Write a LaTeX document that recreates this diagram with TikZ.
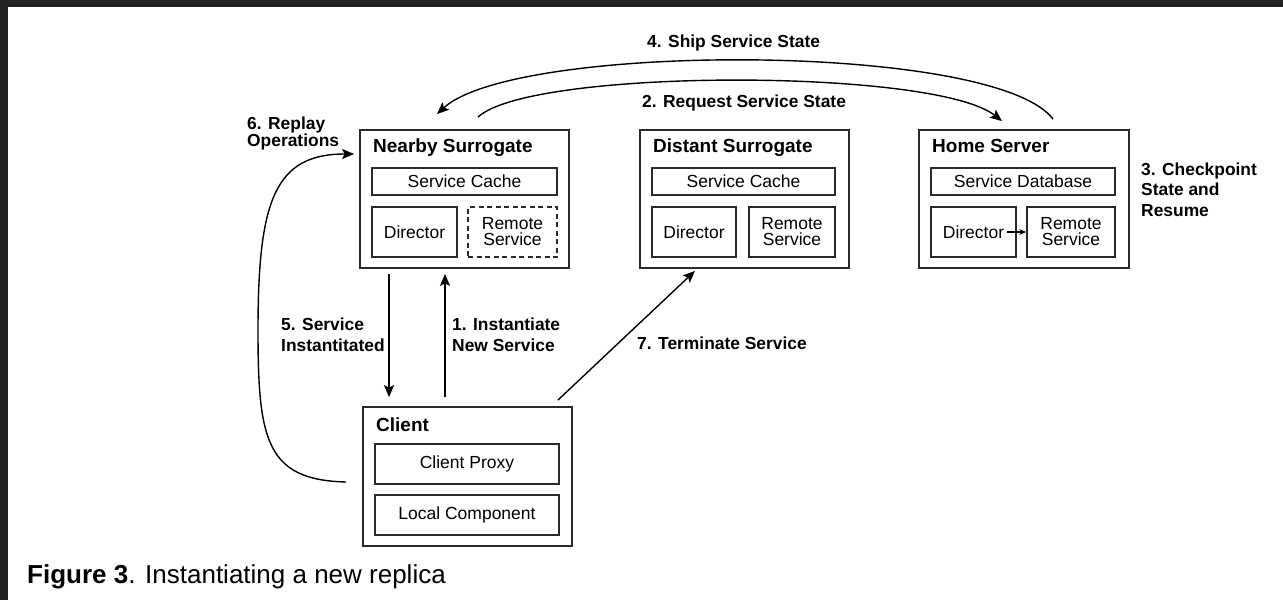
\documentclass[tikz,border=0pt]{standalone}
\usepackage{fontspec}
\setmainfont{Liberation Sans}
\usetikzlibrary{arrows.meta,calc}
\definecolor{bgdark}{HTML}{232323}
\definecolor{boxc}{HTML}{2A2A2A}
\newcommand\lblfont{\fontsize{17.4}{20.5}\selectfont\bfseries}
\newcommand\ttlfont{\fontsize{19}{22}\selectfont\bfseries}
\newcommand\inrfont{\fontsize{17.5}{16}\selectfont}
\begin{document}
\begin{tikzpicture}[x=1pt,y=-1pt,
  outerbox/.style={draw=boxc, line width=1.8pt, inner sep=0pt, minimum width=#1},
  innerbox/.style={draw=boxc, line width=1.6pt, inner sep=0pt, font=\inrfont, align=center},
  titletext/.style={font=\ttlfont, inner sep=0pt, anchor=base west},
  lbl/.style={font=\lblfont, inner sep=0pt, align=left, anchor=base west},
  conn/.style={line width=1.4pt, draw=black, -{Stealth[length=12pt,width=10pt,inset=2.5pt]}},
]
\fill[bgdark] (0,0) rectangle (1283,600);
\fill[white] (8,7) rectangle (1283,600);
\useasboundingbox (0,0) rectangle (1283,600);

% Nearby Surrogate
\node[outerbox=209pt, minimum height=138pt] (ns) at (464.5,199) {};
\node[titletext] (nst) at (373,152) {Nearby Surrogate};
\node[innerbox, minimum width=185pt, minimum height=27pt] (nsc) at (464.5,181.5) {Service Cache};
\node[innerbox, minimum width=85pt, minimum height=50pt] (nsd) at (414.5,232) {Director};
\node[innerbox, dash pattern=on 5pt off 3.5pt, minimum width=89pt, minimum height=50pt] (nsr) at (512.5,232) {Remote\\Service};

% Distant Surrogate
\node[outerbox=209pt, minimum height=138pt] (ds) at (744.5,199) {};
\node[titletext] (dst) at (653,152) {Distant Surrogate};
\node[innerbox, minimum width=183pt, minimum height=27pt] (dsc) at (743.5,181.5) {Service Cache};
\node[innerbox, minimum width=84pt, minimum height=50pt] (dsd) at (694,232) {Director};
\node[innerbox, minimum width=86pt, minimum height=50pt] (dsr) at (792,232) {Remote\\Service};

% Home Server
\node[outerbox=210pt, minimum height=138pt] (hs) at (1024,199) {};
\node[titletext] (hst) at (932,152) {Home Server};
\node[innerbox, minimum width=184pt, minimum height=27pt] (hsc) at (1023,181.5) {Service Database};
\node[innerbox, minimum width=85pt, minimum height=50pt] (hsd) at (973.5,232) {Director};
\node[innerbox, minimum width=88pt, minimum height=50pt] (hsr) at (1071,232) {Remote\\Service};
\draw[line width=1.2pt, -{Stealth[length=7pt,width=6pt]}] ($(hsd.center)+(33,0)$) -- (hsr.west);

% Client
\node[outerbox=209pt, minimum height=139pt] (cl) at (467.5,476.5) {};
\node[titletext] (clt) at (376,431) {Client};
\node[innerbox, minimum width=184pt, minimum height=40pt] (clp) at (467,464) {Client Proxy};
\node[innerbox, minimum width=184pt, minimum height=40pt] (cll) at (467,515) {Local Component};

% Labels (base anchor = baseline of last line)
\node[lbl] (l4) at (647,47) {4. Ship Service State};
\node[lbl] (l2) at (642,107) {2. Request Service State};
\node[lbl] (l3) at (1141,216) {3. Checkpoint\\State and\\Resume};
\node[lbl, font=\fontsize{17.4}{17}\selectfont\bfseries] (l6) at (247,146) {6. Replay\\Operations};
\node[lbl] (l5) at (281,351) {5. Service\\Instantitated};
\node[lbl] (l1) at (452,351) {1. Instantiate\\New Service};
\node[lbl] (l7) at (637,349) {7. Terminate Service};

% Connectors
\draw[conn] ($(ns.south)+(-75.5,5)$) -- ($(cl.north)+(-78.5,-9)$);
\draw[conn] ($(cl.north)+(-22.5,-9)$) -- ($(ns.south)+(-19.5,5)$);
\draw[conn] ($(cl.north east)+(-15,-6)$) -- ($(ds.south)+(-49.5,2)$);
\draw[conn] ($(cl.west)+(-16,5.5)$) .. controls (266,480) and (258,440) .. (258,330)
   .. controls (258,200) and (275,154) .. ($(ns.west)+(-5,-45)$);
\draw[conn] ($(hs.north)+(29,-10)$) .. controls (995,42) and (515,42) .. ($(ns.north)+(-27.5,-15)$);
\draw[conn] ($(ns.north)+(13.5,-12)$) .. controls (530,68) and (935,68) .. ($(hs.north)+(-22,-8)$);

% Caption
\node[inner sep=0pt, anchor=base west, font=\fontsize{26}{30}\selectfont] (cap) at (27,583) {\textbf{Figure 3}. Instantiating a new replica};
\end{tikzpicture}
\end{document}
